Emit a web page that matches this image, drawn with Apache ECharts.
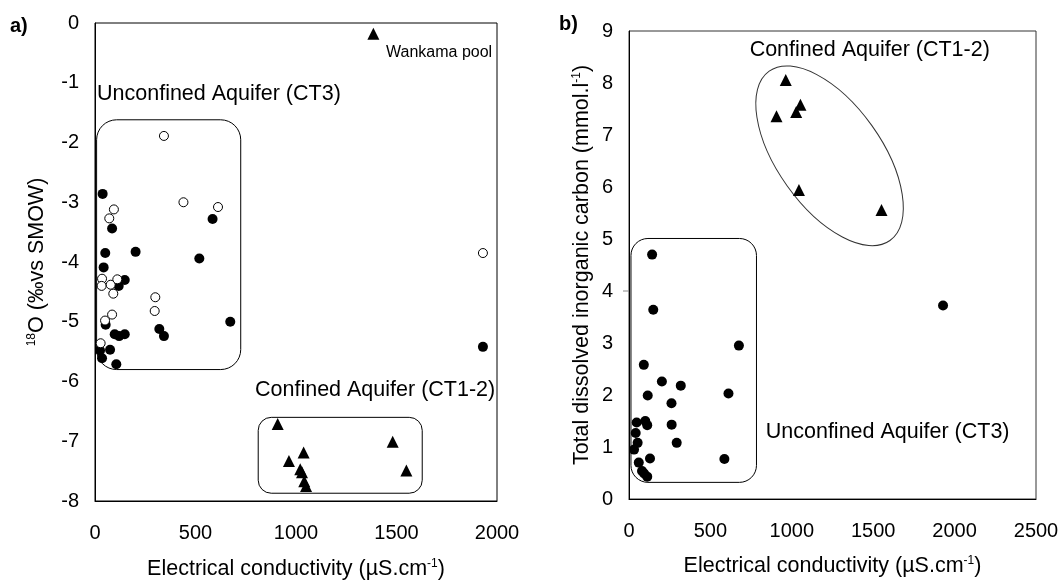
<!DOCTYPE html>
<html><head><meta charset="utf-8">
<script src="https://cdn.jsdelivr.net/npm/echarts@6/dist/echarts.min.js"></script>
<style>html,body{margin:0;padding:0;background:#fff}#c{width:1062px;height:580px}</style>
</head><body><div id="c"></div>
<script>
// ---- Panel a: d18O vs EC ----
const aOpenEC   = [343, 440, 612, 94, 71, 35, 33, 78, 91, 111, 300, 297, 85, 50, 28, 1930];
const aOpenO18  = [-1.89, -3.00, -3.08, -3.12, -3.27, -4.28, -4.40, -4.38, -4.53, -4.29, -4.59, -4.82, -4.88, -4.98, -5.36, -3.85];
const aFillEC   = [38, 585, 85, 51, 202, 519, 43, 148, 118, 673, 53, 98, 120, 148, 320, 343, 75, 25, 35, 106, 1930];
const aFillO18  = [-2.86, -3.28, -3.44, -3.85, -3.83, -3.94, -4.09, -4.30, -4.40, -5.00, -5.05, -5.21, -5.24, -5.21, -5.12, -5.24, -5.47, -5.48, -5.61, -5.71, -5.42];
const aTriEC    = [909, 1481, 1038, 965, 1021, 1030, 1549, 1041, 1050];
const aTriO18   = [-6.71, -7.01, -7.19, -7.33, -7.47, -7.52, -7.49, -7.67, -7.75];
const aPoolEC   = [1385];
const aPoolO18  = [-0.18];
// ---- Panel b: TDIC vs EC ----
const bTriEC    = [963, 1053, 1027, 906, 1044, 1551];
const bTriDIC   = [8.06, 7.58, 7.44, 7.36, 5.94, 5.56];
const bFillEC   = [142, 149, 1929, 675, 91, 202, 318, 611, 115, 261, 47, 100, 112, 262, 41, 53, 31, 293, 586, 129, 60, 80, 93, 112];
const bFillDIC  = [4.70, 3.64, 3.72, 2.95, 2.58, 2.26, 2.18, 2.03, 1.99, 1.84, 1.47, 1.50, 1.42, 1.43, 1.27, 1.08, 0.95, 1.08, 0.77, 0.78, 0.70, 0.54, 0.49, 0.43];

const FONT = "'Liberation Sans', Arial, sans-serif";
const NF = 21.5;   // axis-name / annotation font size
const zip = (xs, ys) => xs.map((x, i) => [x, ys[i]]);

const chart = echarts.init(document.getElementById('c'), null, {renderer: 'canvas'});

const nameStyle = {
  fontSize: NF, fontFamily: FONT, color: '#000',
  rich: { sup: { fontSize: 12, fontFamily: FONT, color: '#000', verticalAlign: 'top' },
          n: { fontSize: NF, fontFamily: FONT, color: '#000' } }
};
const plain = v => String(v);
function xAx(gi, max, gap) {
  return {
    gridIndex: gi, type: 'value', min: 0, max: max, interval: 500,
    axisLine: {show: true, onZero: false, lineStyle: {color: '#000', width: 1}},
    axisTick: {show: false}, splitLine: {show: false},
    axisLabel: {fontSize: 20, color: '#000', fontFamily: FONT, margin: 22, showMaxLabel: true, showMinLabel: true, formatter: plain},
    name: '{n|Electrical conductivity (µS.cm}{sup|-1}{n|)}', nameLocation: 'middle', nameGap: gap,
    nameTextStyle: nameStyle
  };
}
function yAx(gi, min, max, name, gap) {
  return {
    gridIndex: gi, type: 'value', min: min, max: max, interval: 1,
    axisLine: {show: true, onZero: false, lineStyle: {color: '#000', width: 1}},
    axisTick: {show: false}, splitLine: {show: false},
    axisLabel: {fontSize: 20, color: '#000', fontFamily: FONT, margin: 16, showMaxLabel: true, showMinLabel: true, formatter: plain},
    name: name, nameLocation: 'middle', nameGap: gap, nameRotate: 90,
    nameTextStyle: nameStyle
  };
}
function sc(xi, data, symbol, size, fill, z) {
  return {
    type: 'scatter', xAxisIndex: xi, yAxisIndex: xi, data: data, symbol: symbol, symbolSize: size,
    itemStyle: {color: fill, borderColor: '#000', borderWidth: fill === '#fff' ? 1 : 0, opacity: 1},
    z: z, silent: true, animation: false
  };
}

chart.setOption({
  animation: false,
  grid: [
    {left: 95, top: 23, width: 402, height: 478, show: true, borderColor: '#000', borderWidth: 1, backgroundColor: 'transparent', containLabel: false, outerBoundsMode: 'none'},
    {left: 629, top: 31, width: 407, height: 468, show: true, borderColor: '#333', borderWidth: 1, backgroundColor: 'transparent', containLabel: false, outerBoundsMode: 'none'}
  ],
  xAxis: [xAx(0, 2000, 57), xAx(1, 2500, 56)],
  yAxis: [
    yAx(0, -8, 0, '{sup|18}{n|O (‰vs SMOW)}', 47),
    yAx(1, 0, 9, '{n|Total dissolved inorganic carbon (mmol.l}{sup|-1}{n|)}', 36)
  ],
  series: [
    sc(0, zip(aFillEC, aFillO18), 'circle', 10, '#000', 3),
    sc(0, zip(aOpenEC, aOpenO18), 'circle', 9, '#fff', 4),
    sc(0, zip(aTriEC, aTriO18), 'triangle', 12, '#000', 3),
    sc(0, zip(aPoolEC, aPoolO18), 'triangle', 12, '#000', 3),
    sc(1, zip(bFillEC, bFillDIC), 'circle', 10, '#000', 3),
    sc(1, zip(bTriEC, bTriDIC), 'triangle', 12, '#000', 3)
  ]
});

// annotation anchors in data units
const px = (gi, x, y) => chart.convertToPixel({gridIndex: gi}, [x, y]);
function rrect(gi, x0, y0, x1, y1, r, color) {
  const a = px(gi, x0, y0), b = px(gi, x1, y1);
  return {type: 'rect', z: 2, silent: true,
    shape: {x: Math.min(a[0], b[0]), y: Math.min(a[1], b[1]), width: Math.abs(b[0]-a[0]), height: Math.abs(b[1]-a[1]), r: r},
    style: {fill: 'none', stroke: color || '#000', lineWidth: 1}};
}
function txt(gi, x, y, s, size) {
  const p = px(gi, x, y);
  return {type: 'text', x: p[0], y: p[1], z: 5, silent: true,
    style: {text: s, fontSize: size, fontFamily: FONT, fill: '#000', align: 'left', verticalAlign: 'middle'}};
}
const ec = px(1, 1232, 6.60);
const t4a = px(1, 0, 4);
chart.setOption({
  graphic: [
    rrect(0, 8, -1.62, 725, -5.80, 20),
    rrect(0, 812, -6.60, 1628, -7.87, 13),
    rrect(1, 12, 5.01, 783, 0.32, 17),
    {type: 'ellipse', x: ec[0], y: ec[1], rotation: -54.5 * Math.PI / 180, z: 2, silent: true,
     shape: {cx: 0, cy: 0, rx: 104, ry: 52}, style: {fill: 'none', stroke: '#333', lineWidth: 1}},
    {type: 'line', silent: true, shape: {x1: t4a[0] - 6, y1: t4a[1], x2: t4a[0], y2: t4a[1]}, style: {stroke: '#888', lineWidth: 1}},
    txt(0, 10, -1.19, 'Unconfined Aquifer (CT3)', NF),
    txt(0, 796, -6.14, 'Confined Aquifer (CT1-2)', NF),
    txt(0, 1448, -0.49, 'Wankama pool', 16),
    txt(1, 741, 8.64, 'Confined Aquifer (CT1-2)', NF),
    txt(1, 840, 1.29, 'Unconfined Aquifer (CT3)', NF),
    {type: 'text', x: 10, y: 26, silent: true, style: {text: 'a)', fontSize: 20, fontWeight: 'bold', fontFamily: FONT, fill: '#000', verticalAlign: 'middle'}},
    {type: 'text', x: 559, y: 24, silent: true, style: {text: 'b)', fontSize: 20, fontWeight: 'bold', fontFamily: FONT, fill: '#000', verticalAlign: 'middle'}}
  ]
});
</script>
</body></html>
